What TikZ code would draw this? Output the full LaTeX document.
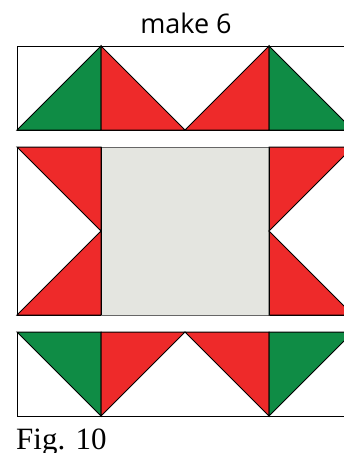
\documentclass[tikz,border=0pt]{standalone}
\usepackage{fontspec}
\setmainfont{Liberation Serif}
\newfontfamily\labelfont{Open Sans}
\definecolor{patchred}{HTML}{EE2A2A}
\definecolor{patchgreen}{HTML}{0F8C45}
\definecolor{patchgray}{HTML}{E4E5E0}
\begin{document}
\begin{tikzpicture}[
    x = 1pt,
    y = -1pt,
    seam/.style = {
        draw = black,
        line width = 1pt,
        line join = miter
    },
    redpiece/.style = {
        seam,
        fill = patchred
    },
    greenpiece/.style = {
        seam,
        fill = patchgreen
    },
    centerpiece/.style = {
        draw = black!60,
        line width = 0.8pt,
        fill = patchgray
    }
]

    \useasboundingbox (0,0) rectangle (344,453);
    \clip (0,0) rectangle (344,453);

    % Title
    \node [font = \labelfont\fontsize{27}{30}\selectfont, anchor = base, inner sep = 0] (title) at (186,33) {make 6};

    % Top row
    \draw [seam, fill = white] (17,46) rectangle (353,130);
    \filldraw [greenpiece] (17,130) -- (101,46) -- (101,130) -- cycle;
    \filldraw [redpiece] (101,46) -- (101,130) -- (185,130) -- cycle;
    \filldraw [redpiece] (185,130) -- (269,46) -- (269,130) -- cycle;
    \filldraw [greenpiece] (269,46) -- (269,130) -- (353,130) -- cycle;

    % Middle row
    \draw [seam, fill = white] (17,147) rectangle (353,315);
    \filldraw [redpiece] (17,147) -- (101,147) -- (101,231) -- cycle;
    \filldraw [redpiece] (17,315) -- (101,231) -- (101,315) -- cycle;
    \filldraw [centerpiece] (101,147) rectangle (269,315);
    \filldraw [redpiece] (269,147) -- (353,147) -- (269,231) -- cycle;
    \filldraw [redpiece] (269,231) -- (269,315) -- (353,315) -- cycle;
    \draw [seam] (101,147) -- (101,315);
    \draw [seam] (269,147) -- (269,315);

    % Bottom row
    \draw [seam, fill = white] (17,332) rectangle (353,416);
    \filldraw [greenpiece] (17,332) -- (101,332) -- (101,416) -- cycle;
    \filldraw [redpiece] (101,332) -- (185,332) -- (101,416) -- cycle;
    \filldraw [redpiece] (185,332) -- (269,332) -- (269,416) -- cycle;
    \filldraw [greenpiece] (269,332) -- (353,332) -- (269,416) -- cycle;

    % Caption
    \node [font = \fontsize{31}{34}\selectfont, anchor = base west, inner sep = 0] (caption) at (16,449) {Fig. 10};

\end{tikzpicture}
\end{document}
